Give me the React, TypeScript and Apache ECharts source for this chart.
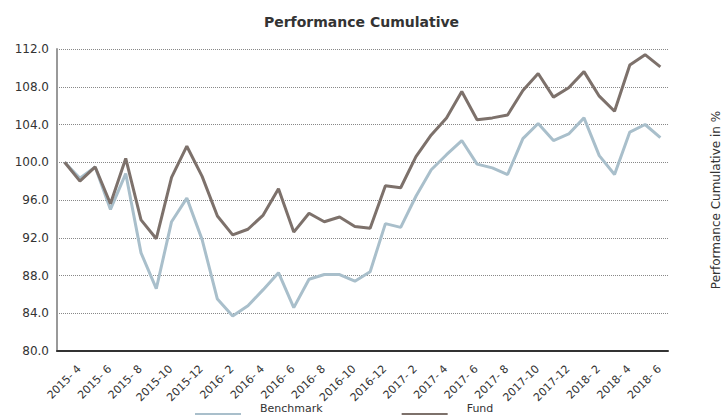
import React, { useEffect, useRef } from "react";
import * as echarts from "echarts";

const categories = [
  "2015- 4", "2015- 5", "2015- 6", "2015- 7", "2015- 8", "2015- 9", "2015-10", "2015-11", "2015-12",
  "2016- 1", "2016- 2", "2016- 3", "2016- 4", "2016- 5", "2016- 6", "2016- 7", "2016- 8", "2016- 9",
  "2016-10", "2016-11", "2016-12",
  "2017- 1", "2017- 2", "2017- 3", "2017- 4", "2017- 5", "2017- 6", "2017- 7", "2017- 8", "2017- 9",
  "2017-10", "2017-11", "2017-12",
  "2018- 1", "2018- 2", "2018- 3", "2018- 4", "2018- 5", "2018- 6", "2018- 7",
];

const benchmark = [
  100.0, 98.3, 99.5, 95.0, 98.8, 90.4, 86.6, 93.7, 96.2,
  91.8, 85.5, 83.7, 84.8, 86.5, 88.3, 84.6, 87.6, 88.1,
  88.1, 87.4, 88.4,
  93.5, 93.1, 96.4, 99.2, 100.8, 102.3, 99.8, 99.4, 98.7,
  102.5, 104.1, 102.3,
  103.0, 104.7, 100.7, 98.7, 103.2, 104.0, 102.6,
];

const fund = [
  100.0, 98.0, 99.5, 95.6, 100.4, 93.9, 91.9, 98.4, 101.7,
  98.5, 94.3, 92.3, 92.9, 94.4, 97.2, 92.6, 94.6, 93.7,
  94.2, 93.2, 93.0,
  97.5, 97.3, 100.6, 102.9, 104.7, 107.5, 104.5, 104.7, 105.0,
  107.6, 109.4, 106.9,
  107.9, 109.6, 107.0, 105.4, 110.3, 111.4, 110.1,
];

const yTicks = { min: 80, max: 112, interval: 4 };

const FONT = "'DejaVu Sans', Verdana, sans-serif";

const LEGEND_ICON = "path://M0,12L46,12L46,14L0,14Z M0,0L0.01,0L0.01,0.01Z";

export default function App() {
  const ref = useRef<HTMLDivElement>(null);
  useEffect(() => {
    if (!ref.current) return;
    const chart = echarts.init(ref.current, undefined, { renderer: "svg" });
    chart.setOption({
      animation: false,
      textStyle: { fontFamily: FONT },
      title: {
        text: "Performance Cumulative",
        left: "center",
        top: 10,
        textStyle: { fontFamily: FONT, fontSize: 14, fontWeight: "bold", color: "#333" },
      },
      grid: [
        { left: 57, right: 55, top: 49, bottom: 65, containLabel: false },
        // label-only grid, shifted so rotated labels sit like the original
        { left: 71.5, right: 40.5, top: 49, bottom: 65, containLabel: false },
      ],
      legend: {
        data: ["Benchmark", "Fund"],
        left: 195,
        top: 401,
        padding: 0,
        icon: LEGEND_ICON,
        itemWidth: 46,
        itemHeight: 14,
        itemGap: 79,
        textStyle: { fontFamily: FONT, fontSize: 11, color: "#333", padding: [0, 0, 0, 14] },
      },
      graphic: [
        {
          type: "text",
          x: 716,
          y: 200,
          rotation: Math.PI / 2,
          style: {
            text: "Performance Cumulative in %",
            fontFamily: FONT,
            fontSize: 12,
            fill: "#333",
            textAlign: "center",
            textVerticalAlign: "middle",
          },
        },
      ],
      xAxis: [
        {
          type: "category",
          gridIndex: 0,
          data: categories,
          boundaryGap: true,
          axisLine: { lineStyle: { color: "#333", width: 2 } },
          axisTick: { show: false },
          axisLabel: { show: false },
          splitLine: { show: false },
        },
        {
          type: "category",
          gridIndex: 1,
          data: categories,
          boundaryGap: true,
          axisLine: { show: false },
          axisTick: { show: false },
          axisLabel: {
            interval: 1,
            rotate: 45,
            margin: 16,
            fontFamily: FONT,
            fontSize: 11,
            color: "#333",
          },
          splitLine: { show: false },
        },
      ],
      yAxis: [
        {
          type: "value",
          gridIndex: 0,
          min: yTicks.min,
          max: yTicks.max,
          interval: yTicks.interval,
          axisLine: { show: true, lineStyle: { color: "#999", width: 2 } },
          axisTick: { show: false },
          axisLabel: {
            margin: 8,
            fontFamily: FONT,
            fontSize: 12,
            color: "#333",
            formatter: (v: number) => v.toFixed(1),
          },
          splitLine: { show: true, lineStyle: { color: "#888", type: [1, 1], width: 1 } },
        },
        {
          type: "value",
          gridIndex: 1,
          min: yTicks.min,
          max: yTicks.max,
          interval: yTicks.interval,
          show: false,
        },
      ],
      series: [
        {
          name: "Benchmark",
          type: "line",
          xAxisIndex: 0,
          yAxisIndex: 0,
          data: benchmark,
          showSymbol: false,
          symbol: "none",
          lineStyle: { color: "#a9bfcb", width: 3 },
          itemStyle: { color: "#a9bfcb" },
          z: 2,
        },
        {
          name: "Fund",
          type: "line",
          xAxisIndex: 0,
          yAxisIndex: 0,
          data: fund,
          showSymbol: false,
          symbol: "none",
          lineStyle: { color: "#7d716b", width: 3 },
          itemStyle: { color: "#7d716b" },
          z: 3,
        },
      ],
    });
    return () => chart.dispose();
  }, []);
  return (
    <div
      ref={ref}
      style={{ position: "absolute", left: 0, top: 0, width: 723, height: 416 }}
    />
  );
}
